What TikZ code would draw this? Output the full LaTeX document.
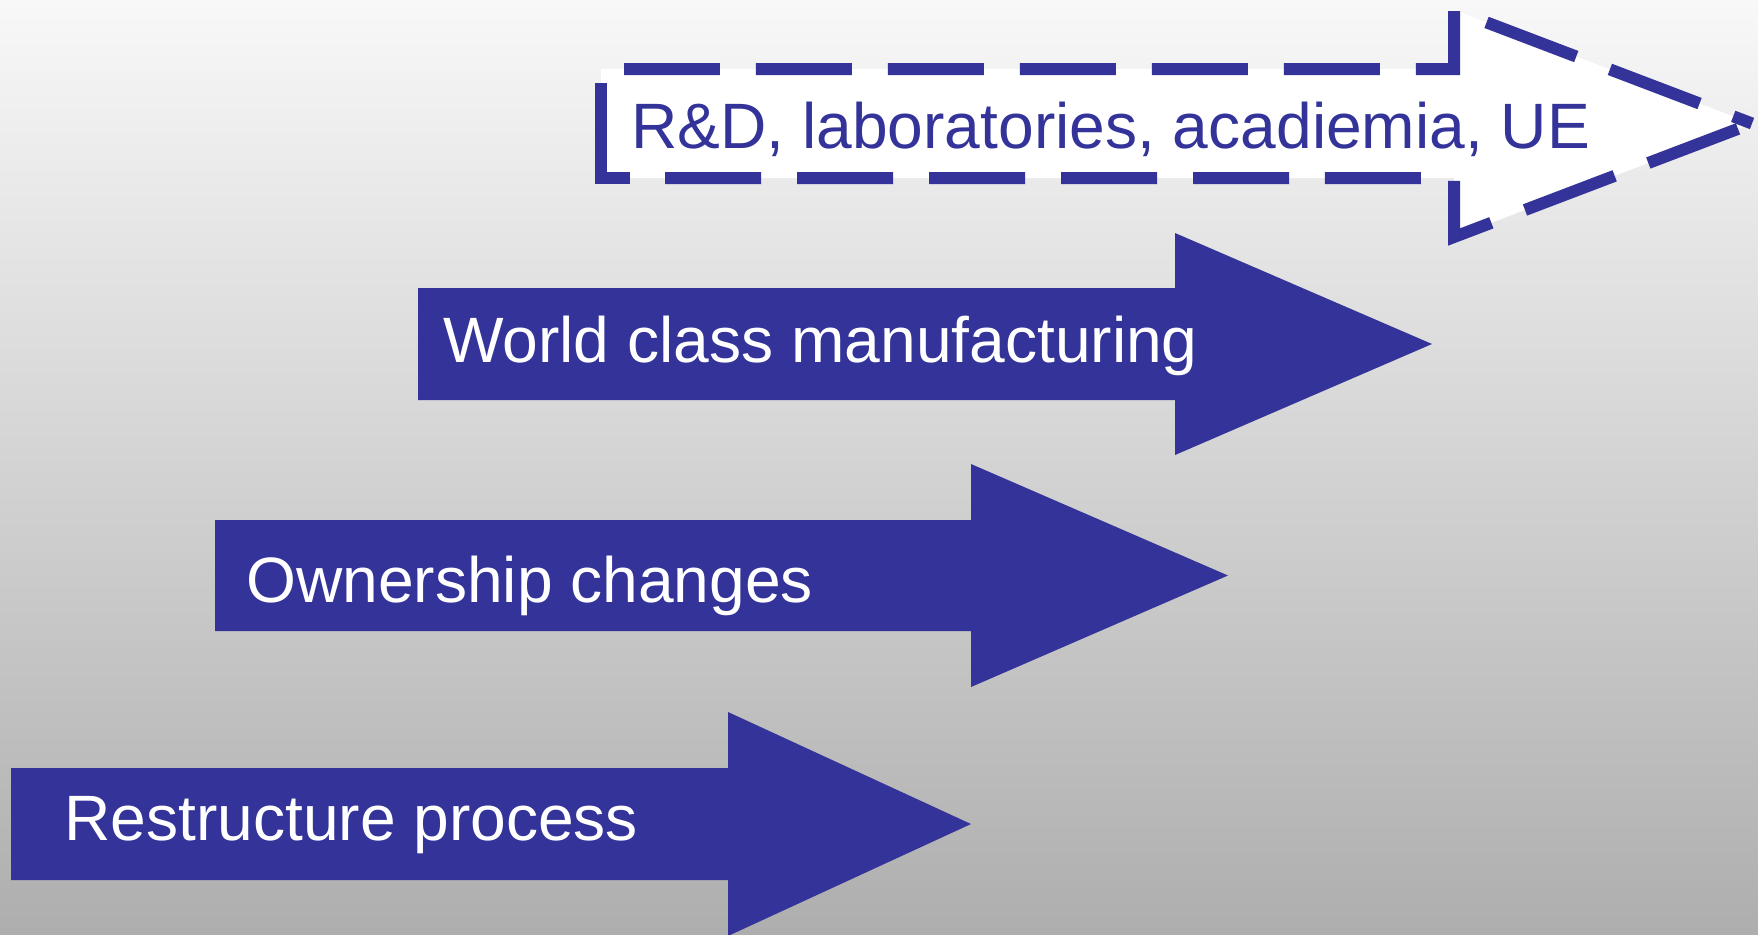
\documentclass[tikz,border=0pt]{standalone}
\usepackage{fontspec}
\setmainfont{Liberation Sans}
\definecolor{arrowblue}{RGB}{51,51,153}
\definecolor{bgtop}{RGB}{248,248,248}
\definecolor{bgbot}{RGB}{174,174,174}
\begin{document}
\begin{tikzpicture}[x=0.02cm,y=-0.02cm,
  solidarrow/.style={fill=arrowblue,draw=none},
  lbl/.style={anchor=base west,inner sep=0pt,font=\fontsize{36.5pt}{43pt}\selectfont},
  dashline/.style={draw=arrowblue,line width=0.24cm,dash pattern=on 1.92cm off 0.72cm,line join=miter}]
\shade[top color=bgtop,bottom color=bgbot] (0,0) rectangle (1758,934);
\useasboundingbox (0,0) rectangle (1758,934);
% Restructure process
\fill[solidarrow] (11,768) -- (728,768) -- (728,712) -- (971,824) -- (728,936) -- (728,880) -- (11,880) -- cycle;
\node[lbl,text=white] (restr) at (64,840) {Restructure process};
% Ownership changes
\fill[solidarrow] (215,520) -- (971,520) -- (971,464) -- (1228,575.5) -- (971,687) -- (971,631) -- (215,631) -- cycle;
\node[lbl,text=white] (owner) at (246,602) {Ownership changes};
% World class manufacturing
\fill[solidarrow] (418,288) -- (1175,288) -- (1175,233) -- (1432,344) -- (1175,455) -- (1175,400) -- (418,400) -- cycle;
\node[lbl,text=white] (world) at (443,362) {World class manufacturing};
% R&D dashed arrow
\fill[white] (601,69) -- (1454,69) -- (1454,10) -- (1752,123.5) -- (1454,237) -- (1454,178) -- (601,178) -- cycle;
\draw[dashline,dash phase=2.18cm] (601,69) -- (1454,69) -- (1454,10) -- (1752,123.5);
\draw[dashline,dash phase=2.34cm] (1752,123.5) -- (1454,237) -- (1454,178) -- (630,178);
\draw[draw=arrowblue,line width=0.24cm,line join=miter] (630,178) -- (601,178) -- (601,83);
\node[lbl,text=arrowblue] (rnd) at (631,148) {R\&D, laboratories, acadiemia, UE};
\end{tikzpicture}
\end{document}
